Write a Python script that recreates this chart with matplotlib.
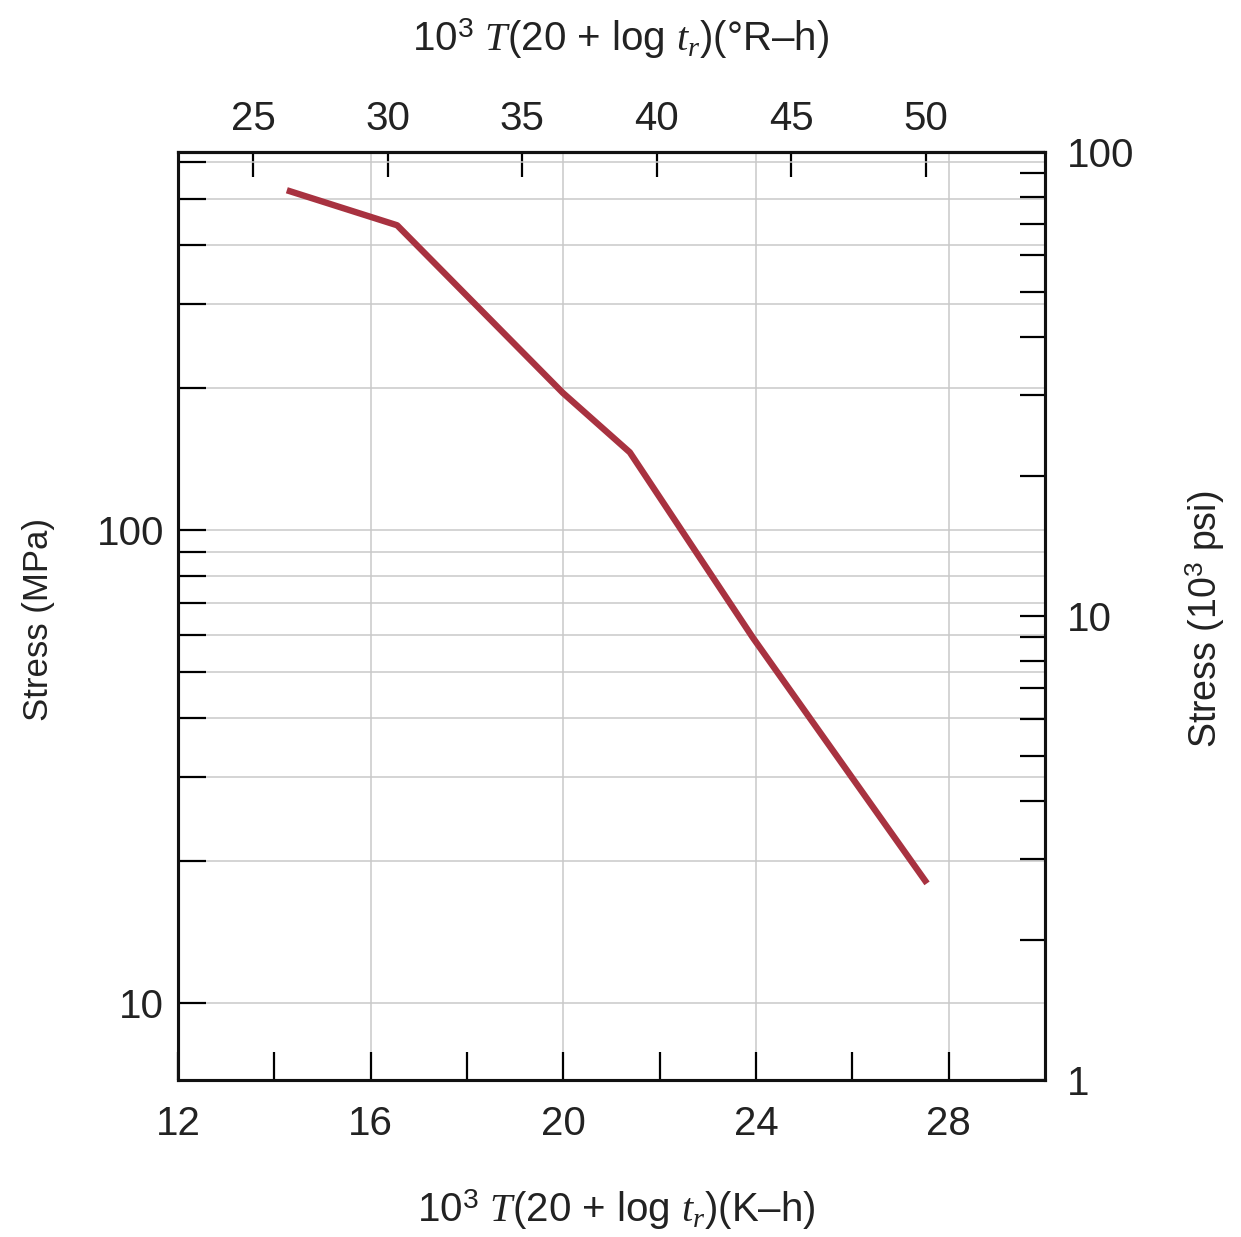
import numpy as np
import matplotlib
matplotlib.use("Agg")
import matplotlib.pyplot as plt
from matplotlib.ticker import FixedLocator, FuncFormatter, NullFormatter

plt.rcParams['font.family'] = ['Liberation Sans', 'DejaVu Sans']
plt.rcParams['mathtext.fontset'] = 'custom'
plt.rcParams['mathtext.rm'] = 'Liberation Sans'
plt.rcParams['mathtext.it'] = 'Liberation Serif:italic'
plt.rcParams['mathtext.bf'] = 'Liberation Sans:bold'

# Larson-Miller parameter (10^3 K-h) and rupture stress (MPa)
lmp_k = [14.26, 16.55, 19.99, 21.38, 23.94, 27.55]
stress_mpa = [523, 441, 195, 146, 59.1, 17.9]

bottom_ticks = [12, 16, 20, 24, 28]
bottom_minor = [14, 18, 22, 26]
top_ticks = [25, 30, 35, 40, 45, 50]
left_major = [10, 100]
left_minor = [20, 30, 40, 50, 60, 70, 80, 90, 200, 300, 400, 500, 600]
right_major = [1, 10, 100]
right_minor = [2, 3, 4, 5, 6, 7, 8, 9, 20, 30, 40, 50, 60, 70, 80, 90]

txt = '#222222'
grid_c = '#c9c9c9'

def k_to_r(x):
    return 0.741 + 1.7894 * np.asarray(x)

def r_to_k(x):
    return (np.asarray(x) - 0.741) / 1.7894

fig = plt.figure(figsize=(12.41, 12.37), dpi=100)
ax = fig.add_axes([0.1434, 0.127, 0.6987, 0.750])

ax.plot(lmp_k, stress_mpa, color='#a83240', lw=4.6, solid_capstyle='butt', zorder=5)

ax.set_yscale('log')
ax.set_xlim(12, 30)
ax.set_ylim(6.875, 629.6)

ax.xaxis.set_major_locator(FixedLocator(bottom_ticks))
ax.xaxis.set_minor_locator(FixedLocator(bottom_minor))
ax.yaxis.set_major_locator(FixedLocator(left_major))
ax.yaxis.set_minor_locator(FixedLocator(left_minor))
ax.yaxis.set_major_formatter(FuncFormatter(lambda v, p: "%d" % v))
ax.yaxis.set_minor_formatter(NullFormatter())

ax.grid(True, axis='y', which='both', color=grid_c, lw=1.1)
ax.grid(True, axis='x', which='major', color=grid_c, lw=1.1)
ax.set_axisbelow(True)

ax.tick_params(axis='x', which='both', direction='in', length=20, width=1.6,
               labelsize=29, pad=18, labelcolor=txt, top=False)
ax.tick_params(axis='y', which='both', direction='in', length=20, width=1.6,
               labelsize=29, pad=10, labelcolor=txt, right=False)

for s in ax.spines.values():
    s.set_linewidth(2.2)
    s.set_color('#111111')

# top axis in Rankine
sec = ax.secondary_xaxis('top', functions=(k_to_r, r_to_k))
sec.xaxis.set_major_locator(FixedLocator(top_ticks))
sec.tick_params(axis='x', direction='in', length=18, width=1.6, labelsize=29,
                pad=10, labelcolor=txt)
sec.spines['top'].set_linewidth(2.2)

# right axis in ksi
ax2 = ax.twinx()
ax2.set_yscale('log')
ax2.set_ylim(1, 100)
ax2.yaxis.set_major_locator(FixedLocator(right_major))
ax2.yaxis.set_minor_locator(FixedLocator(right_minor))
ax2.yaxis.set_major_formatter(FuncFormatter(lambda v, p: "%d" % v))
ax2.yaxis.set_minor_formatter(NullFormatter())
ax2.tick_params(axis='y', which='both', direction='in', length=18, width=1.6,
                labelsize=29, pad=16, labelcolor=txt)
for s in ax2.spines.values():
    s.set_linewidth(2.2)
    s.set_color('#111111')

fig.text(0.031, 0.499, "Stress (MPa)", rotation=90, ha='center', va='center',
         fontsize=25, color=txt)
fig.text(0.971, 0.499, r"Stress ($10^3$ psi)", rotation=90, ha='center',
         va='center', fontsize=27, color=txt)
fig.text(0.4996, 0.969, r"$10^3$ $T$(20 + log $t_r$)($\degree$R–h)", ha='center',
         va='center', fontsize=29, color=txt)
fig.text(0.497, 0.022, r"$10^3$ $T$(20 + log $t_r$)(K–h)", ha='center',
         va='center', fontsize=29, color=txt)

fig.savefig("out.png", dpi=100)
